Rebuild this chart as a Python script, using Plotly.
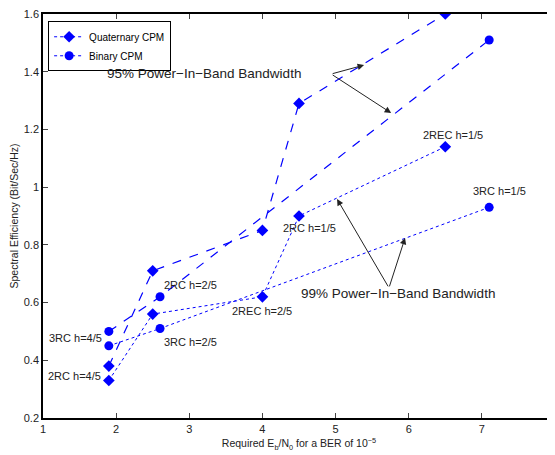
import plotly.graph_objects as go

# Data
quat_95_x = [1.9, 2.5, 4.0, 4.5, 6.5]
quat_95_y = [0.38, 0.71, 0.85, 1.29, 1.60]
quat_99_x = [1.9, 2.5, 4.0, 4.5, 6.5]
quat_99_y = [0.33, 0.56, 0.62, 0.90, 1.14]
bin_95_x = [1.9, 2.6, 7.1]
bin_95_y = [0.50, 0.62, 1.51]
bin_99_x = [1.9, 2.6, 7.1]
bin_99_y = [0.45, 0.51, 0.93]

point_labels = ["3RC h=4/5", "2RC h=4/5", "2RC h=2/5", "3RC h=2/5", "2REC h=2/5",
                "2RC h=1/5", "2REC h=1/5", "3RC h=1/5"]
label_x = [1.45, 1.43, 3.02, 3.02, 3.99, 4.65, 6.6, 7.24]
label_y = [0.477, 0.346, 0.661, 0.463, 0.571, 0.858, 1.18, 0.987]

x_ticks = [1, 2, 3, 4, 5, 6, 7, 8]
y_ticks = [0.2, 0.4, 0.6, 0.8, 1.0, 1.2, 1.4, 1.6]
y_tick_text = ["0.2", "0.4", "0.6", "0.8", "1", "1.2", "1.4", "1.6"]

BLUE = "#0000ff"
FONT = "Liberation Sans, Arial, sans-serif"

fig = go.Figure()
fig.add_trace(go.Scatter(x=quat_95_x, y=quat_95_y, mode="lines+markers",
                         line=dict(color=BLUE, width=1.2, dash="dash"),
                         marker=dict(symbol="diamond", size=9, color=BLUE),
                         showlegend=False))
fig.add_trace(go.Scatter(x=quat_99_x, y=quat_99_y, mode="lines+markers",
                         line=dict(color=BLUE, width=1, dash="dot"),
                         marker=dict(symbol="diamond", size=9, color=BLUE),
                         name="Quaternary CPM"))
fig.add_trace(go.Scatter(x=bin_95_x, y=bin_95_y, mode="lines+markers",
                         line=dict(color=BLUE, width=1.2, dash="dash"),
                         marker=dict(symbol="circle", size=9, color=BLUE),
                         showlegend=False))
fig.add_trace(go.Scatter(x=bin_99_x, y=bin_99_y, mode="lines+markers",
                         line=dict(color=BLUE, width=1, dash="dot"),
                         marker=dict(symbol="circle", size=9, color=BLUE),
                         name="Binary CPM"))

annotations = []
for t, x, y in zip(point_labels, label_x, label_y):
    annotations.append(dict(x=x, y=y, xref="x", yref="y", text=t, showarrow=False,
                            font=dict(family=FONT, size=11, color="#222")))

annotations.append(dict(x=3.2, y=1.395, xref="x", yref="y", text="95% Power\u2212In\u2212Band Bandwidth",
                        showarrow=False, font=dict(family=FONT, size=13.5, color="#222")))
annotations.append(dict(x=5.85, y=0.63, xref="x", yref="y", text="99% Power\u2212In\u2212Band Bandwidth",
                        showarrow=False, font=dict(family=FONT, size=13.5, color="#222")))

arrows = [((4.94, 1.392), (5.39, 1.423)),
          ((4.94, 1.392), (5.76, 1.257)),
          ((5.73, 0.651), (5.02, 0.959)),
          ((5.73, 0.651), (5.95, 0.824))]
for (sx, sy), (ex, ey) in arrows:
    annotations.append(dict(x=ex, y=ey, ax=sx, ay=sy, xref="x", yref="y", axref="x", ayref="y",
                            text="", showarrow=True, arrowhead=2, arrowsize=1.3, arrowwidth=1,
                            arrowcolor="#222", standoff=0, startstandoff=0))

fig.update_layout(
    width=547, height=447,
    margin=dict(l=35, r=0, t=6, b=37),
    paper_bgcolor="white", plot_bgcolor="white",
    font=dict(family=FONT, size=11, color="#222"),
    legend=dict(x=0.01, y=0.982, xanchor="left", yanchor="top",
                bordercolor="black", borderwidth=1, bgcolor="white",
                font=dict(family=FONT, size=10, color="black"),
                itemwidth=30, tracegroupgap=0),
    annotations=annotations,
)
fig.update_xaxes(range=[1, 8], tickvals=x_ticks, ticks="inside", ticklen=5, mirror="allticks",
                 showline=True, linecolor="black", linewidth=1.5, showgrid=False, zeroline=False,
                 automargin=False, ticklabeloverflow="allow",
                 tickfont=dict(size=11, color="#222"),
                 title=dict(text="Required E<sub>b</sub>/N<sub>0</sub> for a BER of 10<sup>\u22125</sup>",
                            font=dict(size=10.5, color="#222"), standoff=6))
fig.update_yaxes(range=[0.2, 1.6], tickvals=y_ticks, ticktext=y_tick_text, ticks="inside", ticklen=5,
                 mirror="allticks", showline=True, linecolor="black", linewidth=1.5, showgrid=False,
                 zeroline=False, automargin=False, ticklabeloverflow="allow",
                 tickfont=dict(size=11, color="#222"),
                 title=dict(text="Spectral Efficiency (Bit/Sec/Hz)", font=dict(size=10.5, color="#222"),
                            standoff=3))

fig.write_html("out.html")
